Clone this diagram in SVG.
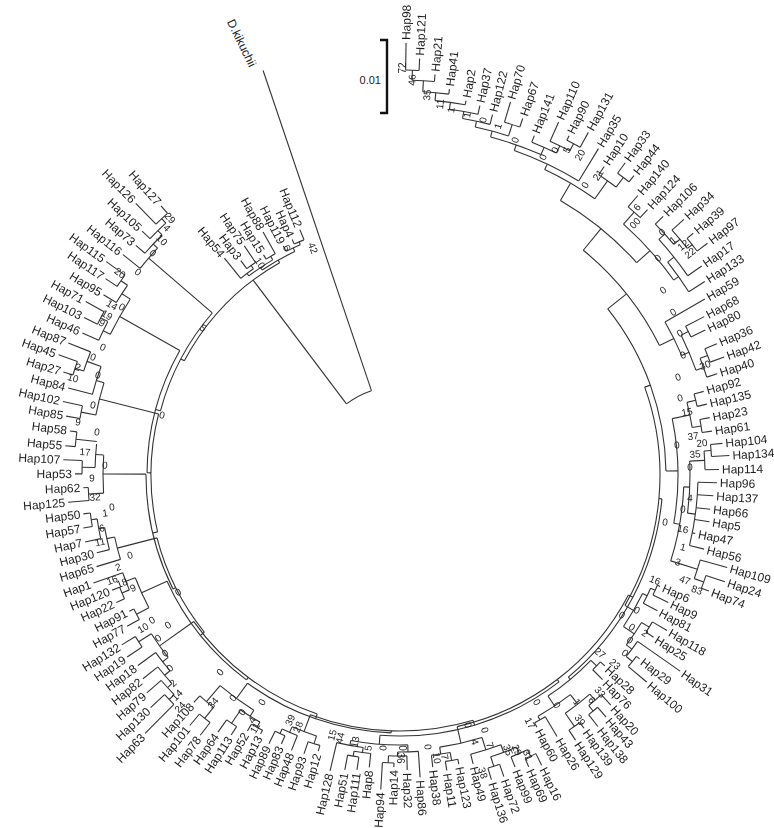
<svg xmlns="http://www.w3.org/2000/svg" width="774" height="828" viewBox="0 0 774 828">
<style>
.t{font-family:"Liberation Sans",Arial,sans-serif;font-size:12px;fill:#1c1c1c}
.e{text-anchor:end}
.b{font-family:"Liberation Sans",Arial,sans-serif;font-size:10px;fill:#222;text-anchor:middle}
#bootstrap,#labels{opacity:.99}
#connectors line,#connectors circle{fill:none;stroke:#333;stroke-width:1.1}
</style>
<rect width="774" height="828" fill="#fff"/>
<g id="connectors" transform="translate(400,475)">
<circle r="89" pathLength="360" stroke-dasharray="18.3 400" transform="rotate(233)"/>
<line x1="89" x2="244" transform="rotate(233)"/>
<line x1="89" x2="427" transform="rotate(251.3)"/>
<circle r="244" pathLength="360" stroke-dasharray="32.55 400" transform="rotate(207.9)"/>
<line x1="244" x2="247" transform="rotate(240.45)"/>
<line x1="244" x2="248" transform="rotate(207.9)"/>
<circle r="254" pathLength="360" stroke-dasharray="2.4 400" transform="rotate(245.4)"/>
<circle r="251" pathLength="360" stroke-dasharray="3.6 400" transform="rotate(243)"/>
<circle r="254" pathLength="360" stroke-dasharray="2.4 400" transform="rotate(238.2)"/>
<circle r="257" pathLength="360" stroke-dasharray="2.4 400" transform="rotate(233.4)"/>
<circle r="253" pathLength="360" stroke-dasharray="3.6 400" transform="rotate(231)"/>
<circle r="250" pathLength="360" stroke-dasharray="6.6 400" transform="rotate(232.8)"/>
<circle r="247" pathLength="360" stroke-dasharray="8.7 400" transform="rotate(236.1)"/>
<line x1="253" x2="279" transform="rotate(231)"/>
<line x1="257" x2="267" transform="rotate(233.4)"/>
<line x1="257" x2="277" transform="rotate(235.8)"/>
<line x1="254" x2="259" transform="rotate(238.2)"/>
<line x1="254" x2="279" transform="rotate(240.6)"/>
<line x1="251" x2="257" transform="rotate(243)"/>
<line x1="254" x2="259" transform="rotate(245.4)"/>
<line x1="254" x2="265" transform="rotate(247.8)"/>
<line x1="251" x2="254" transform="rotate(246.6)"/>
<line x1="247" x2="251" transform="rotate(244.8)"/>
<line x1="250" x2="254" transform="rotate(239.4)"/>
<line x1="253" x2="257" transform="rotate(234.6)"/>
<line x1="250" x2="253" transform="rotate(232.8)"/>
<line x1="247" x2="250" transform="rotate(236.1)"/>
<circle r="248" pathLength="360" stroke-dasharray="25.8 400" transform="rotate(195)"/>
<circle r="253" pathLength="360" stroke-dasharray="29 400" transform="rotate(180.5)"/>
<circle r="249" pathLength="360" stroke-dasharray="27.4 400" transform="rotate(166.8)"/>
<circle r="254" pathLength="360" stroke-dasharray="26.85 400" transform="rotate(153.35)"/>
<circle r="251" pathLength="360" stroke-dasharray="24.3 400" transform="rotate(141.2)"/>
<circle r="256" pathLength="360" stroke-dasharray="28.65 400" transform="rotate(126.85)"/>
<circle r="253" pathLength="360" stroke-dasharray="35.5 400" transform="rotate(109.1)"/>
<circle r="258" pathLength="360" stroke-dasharray="34.25 400" transform="rotate(91.95)"/>
<circle r="256" pathLength="360" stroke-dasharray="37.1 400" transform="rotate(73.4)"/>
<circle r="261" pathLength="360" stroke-dasharray="41.95 400" transform="rotate(52.45)"/>
<circle r="258" pathLength="360" stroke-dasharray="49.5 400" transform="rotate(27.7)"/>
<circle r="263" pathLength="360" stroke-dasharray="45 400" transform="rotate(5.2)"/>
<circle r="260" pathLength="360" stroke-dasharray="49.85 400" transform="rotate(-19.75)"/>
<circle r="266" pathLength="360" stroke-dasharray="37.8 400" transform="rotate(-38.65)"/>
<circle r="290" pathLength="360" stroke-dasharray="24.3 400" transform="rotate(-50.8)"/>
<circle r="318" pathLength="360" stroke-dasharray="17.8 400" transform="rotate(-59.7)"/>
<line x1="248" x2="253" transform="rotate(195)"/>
<line x1="249" x2="253" transform="rotate(180.5)"/>
<line x1="249" x2="254" transform="rotate(166.8)"/>
<line x1="251" x2="254" transform="rotate(153.35)"/>
<line x1="251" x2="256" transform="rotate(141.2)"/>
<line x1="253" x2="256" transform="rotate(126.85)"/>
<line x1="253" x2="258" transform="rotate(109.1)"/>
<line x1="256" x2="258" transform="rotate(91.95)"/>
<line x1="256" x2="261" transform="rotate(73.4)"/>
<line x1="258" x2="261" transform="rotate(52.45)"/>
<line x1="258" x2="263" transform="rotate(27.7)"/>
<line x1="260" x2="263" transform="rotate(5.2)"/>
<line x1="260" x2="266" transform="rotate(-19.75)"/>
<line x1="266" x2="290" transform="rotate(-38.65)"/>
<line x1="290" x2="318" transform="rotate(-50.8)"/>
<line x1="248" x2="332" transform="rotate(220.8)"/>
<line x1="253" x2="322" transform="rotate(209.5)"/>
<line x1="249" x2="310" transform="rotate(194.2)"/>
<line x1="254" x2="297" transform="rotate(180.2)"/>
<line x1="251" x2="292" transform="rotate(165.5)"/>
<line x1="256" x2="284" transform="rotate(155.5)"/>
<line x1="253" x2="295" transform="rotate(144.6)"/>
<line x1="258" x2="277" transform="rotate(126.2)"/>
<line x1="256" x2="274" transform="rotate(110.5)"/>
<line x1="261" x2="270" transform="rotate(94.4)"/>
<line x1="258" x2="275" transform="rotate(77.2)"/>
<line x1="263" x2="266" transform="rotate(50.2)"/>
<line x1="260" x2="270" transform="rotate(30.1)"/>
<line x1="266" x2="278" transform="rotate(-0.85)"/>
<line x1="290" x2="306" transform="rotate(-26.5)"/>
<line x1="318" x2="336" transform="rotate(-41.9)"/>
<line x1="318" x2="338" transform="rotate(-59.7)"/>
<circle r="350" pathLength="360" stroke-dasharray="2.6 400" transform="rotate(225.8)"/>
<circle r="344" pathLength="360" stroke-dasharray="3.7 400" transform="rotate(223.4)"/>
<circle r="338" pathLength="360" stroke-dasharray="4.25 400" transform="rotate(221)"/>
<circle r="332" pathLength="360" stroke-dasharray="4.6 400" transform="rotate(218.5)"/>
<line x1="350" x2="360" transform="rotate(228.4)"/>
<line x1="350" x2="379" transform="rotate(225.8)"/>
<line x1="344" x2="355" transform="rotate(223.4)"/>
<line x1="338" x2="350" transform="rotate(221)"/>
<line x1="332" x2="354" transform="rotate(218.5)"/>
<line x1="344" x2="350" transform="rotate(227.1)"/>
<line x1="338" x2="344" transform="rotate(225.25)"/>
<line x1="332" x2="338" transform="rotate(223.1)"/>
<circle r="340" pathLength="360" stroke-dasharray="2.3 400" transform="rotate(213.7)"/>
<circle r="332" pathLength="360" stroke-dasharray="3.55 400" transform="rotate(211.3)"/>
<circle r="338" pathLength="360" stroke-dasharray="2.4 400" transform="rotate(206.5)"/>
<circle r="330" pathLength="360" stroke-dasharray="3.6 400" transform="rotate(204.1)"/>
<circle r="322" pathLength="360" stroke-dasharray="7.2 400" transform="rotate(205.9)"/>
<line x1="340" x2="363" transform="rotate(216)"/>
<line x1="340" x2="354" transform="rotate(213.7)"/>
<line x1="332" x2="347" transform="rotate(211.3)"/>
<line x1="338" x2="359" transform="rotate(208.9)"/>
<line x1="338" x2="353" transform="rotate(206.5)"/>
<line x1="330" x2="348" transform="rotate(204.1)"/>
<line x1="332" x2="340" transform="rotate(214.85)"/>
<line x1="322" x2="332" transform="rotate(213.1)"/>
<line x1="330" x2="338" transform="rotate(207.7)"/>
<line x1="322" x2="330" transform="rotate(205.9)"/>
<circle r="342" pathLength="360" stroke-dasharray="2.4 400" transform="rotate(197)"/>
<circle r="333" pathLength="360" stroke-dasharray="3.5 400" transform="rotate(198.2)"/>
<circle r="318" pathLength="360" stroke-dasharray="5.25 400" transform="rotate(194.7)"/>
<circle r="325" pathLength="360" stroke-dasharray="2.3 400" transform="rotate(190)"/>
<circle r="310" pathLength="360" stroke-dasharray="6.15 400" transform="rotate(191.15)"/>
<line x1="333" x2="357" transform="rotate(201.7)"/>
<line x1="342" x2="362" transform="rotate(199.4)"/>
<line x1="342" x2="352" transform="rotate(197)"/>
<line x1="318" x2="343" transform="rotate(194.7)"/>
<line x1="325" x2="345" transform="rotate(192.3)"/>
<line x1="325" x2="339" transform="rotate(190)"/>
<line x1="333" x2="342" transform="rotate(198.2)"/>
<line x1="318" x2="333" transform="rotate(199.95)"/>
<line x1="310" x2="318" transform="rotate(197.3)"/>
<line x1="310" x2="325" transform="rotate(191.15)"/>
<circle r="326" pathLength="360" stroke-dasharray="2.6 400" transform="rotate(185)"/>
<circle r="318" pathLength="360" stroke-dasharray="2.4 400" transform="rotate(180.2)"/>
<circle r="305" pathLength="360" stroke-dasharray="4.45 400" transform="rotate(181.4)"/>
<circle r="312" pathLength="360" stroke-dasharray="2.4 400" transform="rotate(175.3)"/>
<circle r="297" pathLength="360" stroke-dasharray="7.35 400" transform="rotate(176.5)"/>
<line x1="326" x2="333" transform="rotate(187.6)"/>
<line x1="326" x2="336" transform="rotate(185)"/>
<line x1="318" x2="337" transform="rotate(182.6)"/>
<line x1="318" x2="325" transform="rotate(180.2)"/>
<line x1="312" x2="317" transform="rotate(177.7)"/>
<line x1="312" x2="333" transform="rotate(175.3)"/>
<line x1="305" x2="326" transform="rotate(186.3)"/>
<line x1="305" x2="318" transform="rotate(181.4)"/>
<line x1="297" x2="305" transform="rotate(183.85)"/>
<line x1="297" x2="312" transform="rotate(176.5)"/>
<circle r="312" pathLength="360" stroke-dasharray="2.5 400" transform="rotate(170.5)"/>
<circle r="306" pathLength="360" stroke-dasharray="3.75 400" transform="rotate(168)"/>
<circle r="300" pathLength="360" stroke-dasharray="4.3 400" transform="rotate(165.6)"/>
<circle r="292" pathLength="360" stroke-dasharray="4.55 400" transform="rotate(163.2)"/>
<line x1="312" x2="319" transform="rotate(173)"/>
<line x1="312" x2="321" transform="rotate(170.5)"/>
<line x1="306" x2="322" transform="rotate(168)"/>
<line x1="300" x2="313" transform="rotate(165.6)"/>
<line x1="292" x2="317" transform="rotate(163.2)"/>
<line x1="306" x2="312" transform="rotate(171.75)"/>
<line x1="300" x2="306" transform="rotate(169.9)"/>
<line x1="292" x2="300" transform="rotate(167.75)"/>
<circle r="302" pathLength="360" stroke-dasharray="2.4 400" transform="rotate(155.8)"/>
<circle r="294" pathLength="360" stroke-dasharray="3.6 400" transform="rotate(157)"/>
<circle r="298" pathLength="360" stroke-dasharray="2.3 400" transform="rotate(151)"/>
<circle r="284" pathLength="360" stroke-dasharray="6.65 400" transform="rotate(152.15)"/>
<line x1="294" x2="325" transform="rotate(160.6)"/>
<line x1="302" x2="310" transform="rotate(158.2)"/>
<line x1="302" x2="311" transform="rotate(155.8)"/>
<line x1="298" x2="303" transform="rotate(153.3)"/>
<line x1="298" x2="312" transform="rotate(151)"/>
<line x1="294" x2="302" transform="rotate(157)"/>
<line x1="284" x2="294" transform="rotate(158.8)"/>
<line x1="284" x2="298" transform="rotate(152.15)"/>
<circle r="322" pathLength="360" stroke-dasharray="2.4 400" transform="rotate(134.6)"/>
<circle r="315" pathLength="360" stroke-dasharray="3.5 400" transform="rotate(135.8)"/>
<circle r="309" pathLength="360" stroke-dasharray="4.05 400" transform="rotate(137.55)"/>
<circle r="302" pathLength="360" stroke-dasharray="4.4 400" transform="rotate(139.6)"/>
<circle r="310" pathLength="360" stroke-dasharray="2.3 400" transform="rotate(146.3)"/>
<circle r="295" pathLength="360" stroke-dasharray="5.65 400" transform="rotate(141.8)"/>
<line x1="310" x2="326" transform="rotate(148.6)"/>
<line x1="310" x2="328" transform="rotate(146.3)"/>
<line x1="302" x2="324" transform="rotate(144)"/>
<line x1="309" x2="328" transform="rotate(141.6)"/>
<line x1="315" x2="334" transform="rotate(139.3)"/>
<line x1="322" x2="341" transform="rotate(137)"/>
<line x1="322" x2="363" transform="rotate(134.6)"/>
<line x1="315" x2="322" transform="rotate(135.8)"/>
<line x1="309" x2="315" transform="rotate(137.55)"/>
<line x1="302" x2="309" transform="rotate(139.6)"/>
<line x1="295" x2="302" transform="rotate(141.8)"/>
<line x1="295" x2="310" transform="rotate(147.45)"/>
<circle r="312" pathLength="360" stroke-dasharray="2.5 400" transform="rotate(127.5)"/>
<circle r="298" pathLength="360" stroke-dasharray="3.45 400" transform="rotate(128.75)"/>
<circle r="300" pathLength="360" stroke-dasharray="2.3 400" transform="rotate(123)"/>
<circle r="290" pathLength="360" stroke-dasharray="2.5 400" transform="rotate(118.3)"/>
<circle r="284" pathLength="360" stroke-dasharray="4.6 400" transform="rotate(119.55)"/>
<circle r="277" pathLength="360" stroke-dasharray="8.65 400" transform="rotate(121.85)"/>
<line x1="298" x2="307" transform="rotate(132.2)"/>
<line x1="312" x2="327" transform="rotate(130)"/>
<line x1="312" x2="328" transform="rotate(127.5)"/>
<line x1="300" x2="315" transform="rotate(125.3)"/>
<line x1="300" x2="310" transform="rotate(123)"/>
<line x1="290" x2="298" transform="rotate(120.8)"/>
<line x1="290" x2="294" transform="rotate(118.3)"/>
<line x1="298" x2="312" transform="rotate(128.75)"/>
<line x1="277" x2="298" transform="rotate(130.5)"/>
<line x1="284" x2="300" transform="rotate(124.15)"/>
<line x1="284" x2="290" transform="rotate(119.55)"/>
<line x1="277" x2="284" transform="rotate(121.85)"/>
<circle r="285" pathLength="360" stroke-dasharray="2.2 400" transform="rotate(113.8)"/>
<circle r="280" pathLength="360" stroke-dasharray="3.4 400" transform="rotate(111.5)"/>
<circle r="282" pathLength="360" stroke-dasharray="2.5 400" transform="rotate(106.5)"/>
<circle r="274" pathLength="360" stroke-dasharray="5.45 400" transform="rotate(107.75)"/>
<line x1="285" x2="299" transform="rotate(116)"/>
<line x1="285" x2="294" transform="rotate(113.8)"/>
<line x1="280" x2="296" transform="rotate(111.5)"/>
<line x1="282" x2="295" transform="rotate(109)"/>
<line x1="282" x2="288" transform="rotate(106.5)"/>
<line x1="280" x2="285" transform="rotate(114.9)"/>
<line x1="274" x2="280" transform="rotate(113.2)"/>
<line x1="274" x2="282" transform="rotate(107.75)"/>
<circle r="285" pathLength="360" stroke-dasharray="2.3 400" transform="rotate(98.3)"/>
<circle r="280" pathLength="360" stroke-dasharray="3.45 400" transform="rotate(96)"/>
<circle r="275" pathLength="360" stroke-dasharray="5.6 400" transform="rotate(97.7)"/>
<circle r="288" pathLength="360" stroke-dasharray="2.3 400" transform="rotate(91.2)"/>
<circle r="281" pathLength="360" stroke-dasharray="3.75 400" transform="rotate(88.6)"/>
<circle r="277" pathLength="360" stroke-dasharray="4.3 400" transform="rotate(86.2)"/>
<circle r="270" pathLength="360" stroke-dasharray="12.15 400" transform="rotate(88.35)"/>
<line x1="275" x2="304" transform="rotate(103.3)"/>
<line x1="285" x2="300" transform="rotate(100.6)"/>
<line x1="285" x2="298" transform="rotate(98.3)"/>
<line x1="280" x2="294" transform="rotate(96)"/>
<line x1="288" x2="315" transform="rotate(93.5)"/>
<line x1="288" x2="292" transform="rotate(91.2)"/>
<line x1="281" x2="295" transform="rotate(88.6)"/>
<line x1="277" x2="303" transform="rotate(86.2)"/>
<line x1="280" x2="285" transform="rotate(99.45)"/>
<line x1="275" x2="280" transform="rotate(97.7)"/>
<line x1="270" x2="275" transform="rotate(100.5)"/>
<line x1="281" x2="288" transform="rotate(92.35)"/>
<line x1="277" x2="281" transform="rotate(90.5)"/>
<line x1="270" x2="277" transform="rotate(88.35)"/>
<circle r="290" pathLength="360" stroke-dasharray="2.5 400" transform="rotate(78.5)"/>
<circle r="282" pathLength="360" stroke-dasharray="3.85 400" transform="rotate(79.75)"/>
<circle r="310" pathLength="360" stroke-dasharray="2.2 400" transform="rotate(64)"/>
<circle r="303" pathLength="360" stroke-dasharray="3.4 400" transform="rotate(65.1)"/>
<circle r="306" pathLength="360" stroke-dasharray="2.3 400" transform="rotate(71)"/>
<circle r="296" pathLength="360" stroke-dasharray="5.35 400" transform="rotate(66.8)"/>
<circle r="288" pathLength="360" stroke-dasharray="6.3 400" transform="rotate(69.5)"/>
<circle r="275" pathLength="360" stroke-dasharray="9.05 400" transform="rotate(72.65)"/>
<line x1="282" x2="294" transform="rotate(83.6)"/>
<line x1="290" x2="299" transform="rotate(81)"/>
<line x1="290" x2="295" transform="rotate(78.5)"/>
<line x1="288" x2="298" transform="rotate(75.8)"/>
<line x1="306" x2="318" transform="rotate(73.3)"/>
<line x1="306" x2="319" transform="rotate(71)"/>
<line x1="303" x2="314" transform="rotate(68.5)"/>
<line x1="310" x2="319" transform="rotate(66.2)"/>
<line x1="310" x2="323" transform="rotate(64)"/>
<line x1="282" x2="290" transform="rotate(79.75)"/>
<line x1="275" x2="282" transform="rotate(81.7)"/>
<line x1="303" x2="310" transform="rotate(65.1)"/>
<line x1="296" x2="303" transform="rotate(66.8)"/>
<line x1="296" x2="306" transform="rotate(72.15)"/>
<line x1="288" x2="296" transform="rotate(69.5)"/>
<line x1="275" x2="288" transform="rotate(72.65)"/>
<circle r="282" pathLength="360" stroke-dasharray="2.5 400" transform="rotate(59)"/>
<circle r="305" pathLength="360" stroke-dasharray="2.2 400" transform="rotate(49.6)"/>
<circle r="298" pathLength="360" stroke-dasharray="3.2 400" transform="rotate(47.5)"/>
<circle r="306" pathLength="360" stroke-dasharray="2.5 400" transform="rotate(54)"/>
<circle r="290" pathLength="360" stroke-dasharray="6.15 400" transform="rotate(49.1)"/>
<circle r="278" pathLength="360" stroke-dasharray="8.05 400" transform="rotate(52.2)"/>
<circle r="274" pathLength="360" stroke-dasharray="2.3 400" transform="rotate(43)"/>
<circle r="266" pathLength="360" stroke-dasharray="12.05 400" transform="rotate(44.15)"/>
<line x1="282" x2="287" transform="rotate(61.5)"/>
<line x1="282" x2="305" transform="rotate(59)"/>
<line x1="306" x2="318" transform="rotate(56.5)"/>
<line x1="306" x2="313" transform="rotate(54)"/>
<line x1="305" x2="320" transform="rotate(51.8)"/>
<line x1="305" x2="318" transform="rotate(49.6)"/>
<line x1="298" x2="312" transform="rotate(47.5)"/>
<line x1="274" x2="288" transform="rotate(45.3)"/>
<line x1="274" x2="280" transform="rotate(43)"/>
<line x1="278" x2="282" transform="rotate(60.25)"/>
<line x1="298" x2="305" transform="rotate(50.7)"/>
<line x1="290" x2="298" transform="rotate(49.1)"/>
<line x1="290" x2="306" transform="rotate(55.25)"/>
<line x1="278" x2="290" transform="rotate(52.2)"/>
<line x1="266" x2="278" transform="rotate(56.2)"/>
<line x1="266" x2="274" transform="rotate(44.15)"/>
<circle r="280" pathLength="360" stroke-dasharray="2.2 400" transform="rotate(23.2)"/>
<circle r="275" pathLength="360" stroke-dasharray="3.5 400" transform="rotate(24.3)"/>
<circle r="292" pathLength="360" stroke-dasharray="2.4 400" transform="rotate(30.2)"/>
<circle r="298" pathLength="360" stroke-dasharray="2.5 400" transform="rotate(37.5)"/>
<circle r="290" pathLength="360" stroke-dasharray="3.75 400" transform="rotate(35)"/>
<circle r="283" pathLength="360" stroke-dasharray="5.5 400" transform="rotate(31.4)"/>
<circle r="270" pathLength="360" stroke-dasharray="8.05 400" transform="rotate(26.05)"/>
<line x1="298" x2="322" transform="rotate(40)"/>
<line x1="298" x2="302" transform="rotate(37.5)"/>
<line x1="290" x2="342" transform="rotate(35)"/>
<line x1="292" x2="301" transform="rotate(32.6)"/>
<line x1="292" x2="309" transform="rotate(30.2)"/>
<line x1="275" x2="291" transform="rotate(27.8)"/>
<line x1="280" x2="297" transform="rotate(25.4)"/>
<line x1="280" x2="283" transform="rotate(23.2)"/>
<line x1="275" x2="280" transform="rotate(24.3)"/>
<line x1="270" x2="275" transform="rotate(26.05)"/>
<line x1="283" x2="292" transform="rotate(31.4)"/>
<line x1="290" x2="298" transform="rotate(38.75)"/>
<line x1="283" x2="290" transform="rotate(36.9)"/>
<line x1="270" x2="283" transform="rotate(34.15)"/>
<circle r="305" pathLength="360" stroke-dasharray="2.4 400" transform="rotate(344.6)"/>
<circle r="305" pathLength="360" stroke-dasharray="2.5 400" transform="rotate(349.5)"/>
<circle r="296" pathLength="360" stroke-dasharray="4.95 400" transform="rotate(345.8)"/>
<circle r="312" pathLength="360" stroke-dasharray="2.2 400" transform="rotate(354.4)"/>
<circle r="305" pathLength="360" stroke-dasharray="3.5 400" transform="rotate(355.5)"/>
<circle r="298" pathLength="360" stroke-dasharray="12.3 400" transform="rotate(361.4)"/>
<circle r="290" pathLength="360" stroke-dasharray="10.3 400" transform="rotate(357.25)"/>
<circle r="322" pathLength="360" stroke-dasharray="2.4 400" transform="rotate(378.2)"/>
<circle r="312" pathLength="360" stroke-dasharray="3.6 400" transform="rotate(375.8)"/>
<circle r="284" pathLength="360" stroke-dasharray="15.2 400" transform="rotate(362.4)"/>
<circle r="278" pathLength="360" stroke-dasharray="21.7 400" transform="rotate(348.3)"/>
<line x1="305" x2="315" transform="rotate(344.6)"/>
<line x1="305" x2="315" transform="rotate(347)"/>
<line x1="305" x2="315" transform="rotate(349.5)"/>
<line x1="305" x2="315" transform="rotate(352)"/>
<line x1="312" x2="324" transform="rotate(354.4)"/>
<line x1="312" x2="330" transform="rotate(356.6)"/>
<line x1="305" x2="319" transform="rotate(359)"/>
<line x1="298" x2="317" transform="rotate(1.4)"/>
<line x1="298" x2="314" transform="rotate(3.8)"/>
<line x1="298" x2="312" transform="rotate(6.3)"/>
<line x1="298" x2="313" transform="rotate(8.6)"/>
<line x1="298" x2="301" transform="rotate(11.2)"/>
<line x1="298" x2="313" transform="rotate(13.7)"/>
<line x1="312" x2="340" transform="rotate(15.8)"/>
<line x1="322" x2="342" transform="rotate(18.2)"/>
<line x1="322" x2="330" transform="rotate(20.6)"/>
<line x1="296" x2="305" transform="rotate(345.8)"/>
<line x1="296" x2="305" transform="rotate(350.75)"/>
<line x1="278" x2="296" transform="rotate(348.3)"/>
<line x1="305" x2="312" transform="rotate(355.5)"/>
<line x1="290" x2="305" transform="rotate(357.25)"/>
<line x1="290" x2="298" transform="rotate(367.55)"/>
<line x1="284" x2="290" transform="rotate(362.4)"/>
<line x1="312" x2="322" transform="rotate(379.4)"/>
<line x1="284" x2="312" transform="rotate(377.6)"/>
<line x1="278" x2="284" transform="rotate(370)"/>
<circle r="322" pathLength="360" stroke-dasharray="2.1 400" transform="rotate(332.5)"/>
<circle r="330" pathLength="360" stroke-dasharray="2.5 400" transform="rotate(337.5)"/>
<circle r="322" pathLength="360" stroke-dasharray="3.55 400" transform="rotate(338.75)"/>
<circle r="314" pathLength="360" stroke-dasharray="6.95 400" transform="rotate(333.55)"/>
<circle r="306" pathLength="360" stroke-dasharray="7 400" transform="rotate(330)"/>
<line x1="306" x2="352" transform="rotate(330)"/>
<line x1="322" x2="343" transform="rotate(332.5)"/>
<line x1="322" x2="338" transform="rotate(334.6)"/>
<line x1="330" x2="343" transform="rotate(337.5)"/>
<line x1="330" x2="345" transform="rotate(340)"/>
<line x1="322" x2="333" transform="rotate(342.3)"/>
<line x1="314" x2="322" transform="rotate(333.55)"/>
<line x1="322" x2="330" transform="rotate(338.75)"/>
<line x1="314" x2="322" transform="rotate(340.5)"/>
<line x1="306" x2="314" transform="rotate(337)"/>
<circle r="352" pathLength="360" stroke-dasharray="2.6 400" transform="rotate(310.4)"/>
<circle r="372" pathLength="360" stroke-dasharray="2.5 400" transform="rotate(320.5)"/>
<circle r="366" pathLength="360" stroke-dasharray="3.75 400" transform="rotate(318)"/>
<circle r="358" pathLength="360" stroke-dasharray="4.4 400" transform="rotate(315.5)"/>
<circle r="350" pathLength="360" stroke-dasharray="7.6 400" transform="rotate(317.7)"/>
<circle r="342" pathLength="360" stroke-dasharray="6.1 400" transform="rotate(321.5)"/>
<circle r="336" pathLength="360" stroke-dasharray="12.85 400" transform="rotate(311.7)"/>
<line x1="352" x2="367" transform="rotate(310.4)"/>
<line x1="352" x2="363" transform="rotate(313)"/>
<line x1="358" x2="369" transform="rotate(315.5)"/>
<line x1="366" x2="382" transform="rotate(318)"/>
<line x1="372" x2="380" transform="rotate(320.5)"/>
<line x1="372" x2="385" transform="rotate(323)"/>
<line x1="350" x2="367" transform="rotate(325.3)"/>
<line x1="342" x2="361" transform="rotate(327.6)"/>
<line x1="336" x2="352" transform="rotate(311.7)"/>
<line x1="366" x2="372" transform="rotate(321.75)"/>
<line x1="358" x2="366" transform="rotate(319.9)"/>
<line x1="350" x2="358" transform="rotate(317.7)"/>
<line x1="342" x2="350" transform="rotate(321.5)"/>
<line x1="336" x2="342" transform="rotate(324.55)"/>
<circle r="405" pathLength="360" stroke-dasharray="1.9 400" transform="rotate(270.8)"/>
<circle r="395" pathLength="360" stroke-dasharray="3.25 400" transform="rotate(271.75)"/>
<circle r="384" pathLength="360" stroke-dasharray="3.9 400" transform="rotate(273.4)"/>
<circle r="376" pathLength="360" stroke-dasharray="4.65 400" transform="rotate(275.35)"/>
<circle r="369" pathLength="360" stroke-dasharray="4.5 400" transform="rotate(277.7)"/>
<circle r="362" pathLength="360" stroke-dasharray="4.45 400" transform="rotate(279.95)"/>
<circle r="368" pathLength="360" stroke-dasharray="2.5 400" transform="rotate(286.5)"/>
<circle r="356" pathLength="360" stroke-dasharray="5.55 400" transform="rotate(282.2)"/>
<circle r="374" pathLength="360" stroke-dasharray="2.3 400" transform="rotate(296.5)"/>
<circle r="366" pathLength="360" stroke-dasharray="3.45 400" transform="rotate(294.2)"/>
<circle r="358" pathLength="360" stroke-dasharray="4.3 400" transform="rotate(291.6)"/>
<circle r="350" pathLength="360" stroke-dasharray="8.75 400" transform="rotate(285)"/>
<circle r="344" pathLength="360" stroke-dasharray="11.9 400" transform="rotate(289.4)"/>
<circle r="372" pathLength="360" stroke-dasharray="2.2 400" transform="rotate(305.8)"/>
<circle r="360" pathLength="360" stroke-dasharray="3.4 400" transform="rotate(303.5)"/>
<circle r="338" pathLength="360" stroke-dasharray="9.85 400" transform="rotate(295.35)"/>
<line x1="405" x2="432" transform="rotate(270.8)"/>
<line x1="405" x2="417" transform="rotate(272.7)"/>
<line x1="395" x2="402" transform="rotate(275)"/>
<line x1="384" x2="389" transform="rotate(277.3)"/>
<line x1="376" x2="380" transform="rotate(280)"/>
<line x1="369" x2="378" transform="rotate(282.2)"/>
<line x1="362" x2="372" transform="rotate(284.4)"/>
<line x1="368" x2="389" transform="rotate(286.5)"/>
<line x1="368" x2="377" transform="rotate(289)"/>
<line x1="358" x2="365" transform="rotate(291.6)"/>
<line x1="366" x2="387" transform="rotate(294.2)"/>
<line x1="374" x2="379" transform="rotate(296.5)"/>
<line x1="374" x2="391" transform="rotate(298.8)"/>
<line x1="344" x2="382" transform="rotate(301.3)"/>
<line x1="360" x2="370" transform="rotate(303.5)"/>
<line x1="372" x2="385" transform="rotate(305.8)"/>
<line x1="372" x2="380" transform="rotate(308)"/>
<line x1="395" x2="405" transform="rotate(271.75)"/>
<line x1="384" x2="395" transform="rotate(273.4)"/>
<line x1="376" x2="384" transform="rotate(275.35)"/>
<line x1="369" x2="376" transform="rotate(277.7)"/>
<line x1="362" x2="369" transform="rotate(279.95)"/>
<line x1="356" x2="362" transform="rotate(282.2)"/>
<line x1="356" x2="368" transform="rotate(287.75)"/>
<line x1="350" x2="356" transform="rotate(285)"/>
<line x1="366" x2="374" transform="rotate(297.65)"/>
<line x1="358" x2="366" transform="rotate(295.9)"/>
<line x1="350" x2="358" transform="rotate(293.75)"/>
<line x1="344" x2="350" transform="rotate(289.4)"/>
<line x1="338" x2="344" transform="rotate(295.35)"/>
<line x1="360" x2="372" transform="rotate(306.9)"/>
<line x1="338" x2="360" transform="rotate(305.2)"/>
</g>
<g id="scalebar" fill="none" stroke="#111" stroke-width="2.4">
<path d="M380,40 H387 V113 H380"/>
</g>
<text class="t e" x="381" y="84" style="font-size:11px">0.01</text>
<g id="labels" transform="translate(400,475)">
<g id="Hap98"><text class="t" dy=".35em" transform="rotate(270.8) translate(435)">Hap98</text></g>
<g id="Hap121"><text class="t" dy=".35em" transform="rotate(272.7) translate(420)">Hap121</text></g>
<g id="Hap21"><text class="t" dy=".35em" transform="rotate(275) translate(405)">Hap21</text></g>
<g id="Hap41"><text class="t" dy=".35em" transform="rotate(277.3) translate(392)">Hap41</text></g>
<g id="Hap2"><text class="t" dy=".35em" transform="rotate(280) translate(383)">Hap2</text></g>
<g id="Hap37"><text class="t" dy=".35em" transform="rotate(282.2) translate(381)">Hap37</text></g>
<g id="Hap122"><text class="t" dy=".35em" transform="rotate(284.4) translate(375)">Hap122</text></g>
<g id="Hap70"><text class="t" dy=".35em" transform="rotate(286.5) translate(392)">Hap70</text></g>
<g id="Hap67"><text class="t" dy=".35em" transform="rotate(289) translate(380)">Hap67</text></g>
<g id="Hap141"><text class="t" dy=".35em" transform="rotate(291.6) translate(368)">Hap141</text></g>
<g id="Hap110"><text class="t" dy=".35em" transform="rotate(294.2) translate(390)">Hap110</text></g>
<g id="Hap90"><text class="t" dy=".35em" transform="rotate(296.5) translate(382)">Hap90</text></g>
<g id="Hap131"><text class="t" dy=".35em" transform="rotate(298.8) translate(394)">Hap131</text></g>
<g id="Hap35"><text class="t" dy=".35em" transform="rotate(301.3) translate(385)">Hap35</text></g>
<g id="Hap10"><text class="t" dy=".35em" transform="rotate(303.5) translate(373)">Hap10</text></g>
<g id="Hap33"><text class="t" dy=".35em" transform="rotate(305.8) translate(388)">Hap33</text></g>
<g id="Hap44"><text class="t" dy=".35em" transform="rotate(308) translate(383)">Hap44</text></g>
<g id="Hap140"><text class="t" dy=".35em" transform="rotate(310.4) translate(370)">Hap140</text></g>
<g id="Hap124"><text class="t" dy=".35em" transform="rotate(313) translate(366)">Hap124</text></g>
<g id="Hap106"><text class="t" dy=".35em" transform="rotate(315.5) translate(372)">Hap106</text></g>
<g id="Hap34"><text class="t" dy=".35em" transform="rotate(318) translate(385)">Hap34</text></g>
<g id="Hap39"><text class="t" dy=".35em" transform="rotate(320.5) translate(383)">Hap39</text></g>
<g id="Hap97"><text class="t" dy=".35em" transform="rotate(323) translate(388)">Hap97</text></g>
<g id="Hap17"><text class="t" dy=".35em" transform="rotate(325.3) translate(370)">Hap17</text></g>
<g id="Hap133"><text class="t" dy=".35em" transform="rotate(327.6) translate(364)">Hap133</text></g>
<g id="Hap59"><text class="t" dy=".35em" transform="rotate(330) translate(355)">Hap59</text></g>
<g id="Hap68"><text class="t" dy=".35em" transform="rotate(332.5) translate(346)">Hap68</text></g>
<g id="Hap80"><text class="t" dy=".35em" transform="rotate(334.6) translate(341)">Hap80</text></g>
<g id="Hap36"><text class="t" dy=".35em" transform="rotate(337.5) translate(346)">Hap36</text></g>
<g id="Hap42"><text class="t" dy=".35em" transform="rotate(340) translate(348)">Hap42</text></g>
<g id="Hap40"><text class="t" dy=".35em" transform="rotate(342.3) translate(336)">Hap40</text></g>
<g id="Hap92"><text class="t" dy=".35em" transform="rotate(344.6) translate(318)">Hap92</text></g>
<g id="Hap135"><text class="t" dy=".35em" transform="rotate(347) translate(318)">Hap135</text></g>
<g id="Hap23"><text class="t" dy=".35em" transform="rotate(349.5) translate(318)">Hap23</text></g>
<g id="Hap61"><text class="t" dy=".35em" transform="rotate(352) translate(318)">Hap61</text></g>
<g id="Hap104"><text class="t" dy=".35em" transform="rotate(354.4) translate(327)">Hap104</text></g>
<g id="Hap134"><text class="t" dy=".35em" transform="rotate(356.6) translate(333)">Hap134</text></g>
<g id="Hap114"><text class="t" dy=".35em" transform="rotate(359) translate(322)">Hap114</text></g>
<g id="Hap96"><text class="t" dy=".35em" transform="rotate(1.4) translate(320)">Hap96</text></g>
<g id="Hap137"><text class="t" dy=".35em" transform="rotate(3.8) translate(317)">Hap137</text></g>
<g id="Hap66"><text class="t" dy=".35em" transform="rotate(6.3) translate(315)">Hap66</text></g>
<g id="Hap5"><text class="t" dy=".35em" transform="rotate(8.6) translate(316)">Hap5</text></g>
<g id="Hap47"><text class="t" dy=".35em" transform="rotate(11.2) translate(304)">Hap47</text></g>
<g id="Hap56"><text class="t" dy=".35em" transform="rotate(13.7) translate(316)">Hap56</text></g>
<g id="Hap109"><text class="t" dy=".35em" transform="rotate(15.8) translate(343)">Hap109</text></g>
<g id="Hap24"><text class="t" dy=".35em" transform="rotate(18.2) translate(345)">Hap24</text></g>
<g id="Hap74"><text class="t" dy=".35em" transform="rotate(20.6) translate(333)">Hap74</text></g>
<g id="Hap6"><text class="t" dy=".35em" transform="rotate(23.2) translate(286)">Hap6</text></g>
<g id="Hap9"><text class="t" dy=".35em" transform="rotate(25.4) translate(300)">Hap9</text></g>
<g id="Hap81"><text class="t" dy=".35em" transform="rotate(27.8) translate(294)">Hap81</text></g>
<g id="Hap118"><text class="t" dy=".35em" transform="rotate(30.2) translate(312)">Hap118</text></g>
<g id="Hap25"><text class="t" dy=".35em" transform="rotate(32.6) translate(304)">Hap25</text></g>
<g id="Hap31"><text class="t" dy=".35em" transform="rotate(35) translate(345)">Hap31</text></g>
<g id="Hap29"><text class="t" dy=".35em" transform="rotate(37.5) translate(305)">Hap29</text></g>
<g id="Hap100"><text class="t" dy=".35em" transform="rotate(40) translate(325)">Hap100</text></g>
<g id="Hap28"><text class="t" dy=".35em" transform="rotate(43) translate(283)">Hap28</text></g>
<g id="Hap76"><text class="t" dy=".35em" transform="rotate(45.3) translate(291)">Hap76</text></g>
<g id="Hap20"><text class="t" dy=".35em" transform="rotate(47.5) translate(315)">Hap20</text></g>
<g id="Hap43"><text class="t" dy=".35em" transform="rotate(49.6) translate(321)">Hap43</text></g>
<g id="Hap138"><text class="t" dy=".35em" transform="rotate(51.8) translate(323)">Hap138</text></g>
<g id="Hap139"><text class="t" dy=".35em" transform="rotate(54) translate(316)">Hap139</text></g>
<g id="Hap129"><text class="t" dy=".35em" transform="rotate(56.5) translate(321)">Hap129</text></g>
<g id="Hap26"><text class="t" dy=".35em" transform="rotate(59) translate(308)">Hap26</text></g>
<g id="Hap60"><text class="t" dy=".35em" transform="rotate(61.5) translate(290)">Hap60</text></g>
<g id="Hap16"><text class="t" dy=".35em" transform="rotate(64) translate(326)">Hap16</text></g>
<g id="Hap69"><text class="t" dy=".35em" transform="rotate(66.2) translate(322)">Hap69</text></g>
<g id="Hap99"><text class="t" dy=".35em" transform="rotate(68.5) translate(317)">Hap99</text></g>
<g id="Hap72"><text class="t" dy=".35em" transform="rotate(71) translate(322)">Hap72</text></g>
<g id="Hap136"><text class="t" dy=".35em" transform="rotate(73.3) translate(321)">Hap136</text></g>
<g id="Hap49"><text class="t" dy=".35em" transform="rotate(75.8) translate(301)">Hap49</text></g>
<g id="Hap123"><text class="t" dy=".35em" transform="rotate(78.5) translate(298)">Hap123</text></g>
<g id="Hap11"><text class="t" dy=".35em" transform="rotate(81) translate(302)">Hap11</text></g>
<g id="Hap38"><text class="t" dy=".35em" transform="rotate(83.6) translate(297)">Hap38</text></g>
<g id="Hap86"><text class="t" dy=".35em" transform="rotate(86.2) translate(306)">Hap86</text></g>
<g id="Hap32"><text class="t" dy=".35em" transform="rotate(88.6) translate(298)">Hap32</text></g>
<g id="Hap14"><text class="t e" dy=".35em" transform="rotate(91.2) translate(295) rotate(180)">Hap14</text></g>
<g id="Hap94"><text class="t e" dy=".35em" transform="rotate(93.5) translate(318) rotate(180)">Hap94</text></g>
<g id="Hap8"><text class="t e" dy=".35em" transform="rotate(96) translate(297) rotate(180)">Hap8</text></g>
<g id="Hap111"><text class="t e" dy=".35em" transform="rotate(98.3) translate(301) rotate(180)">Hap111</text></g>
<g id="Hap51"><text class="t e" dy=".35em" transform="rotate(100.6) translate(303) rotate(180)">Hap51</text></g>
<g id="Hap128"><text class="t e" dy=".35em" transform="rotate(103.3) translate(307) rotate(180)">Hap128</text></g>
<g id="Hap12"><text class="t e" dy=".35em" transform="rotate(106.5) translate(291) rotate(180)">Hap12</text></g>
<g id="Hap93"><text class="t e" dy=".35em" transform="rotate(109) translate(298) rotate(180)">Hap93</text></g>
<g id="Hap48"><text class="t e" dy=".35em" transform="rotate(111.5) translate(299) rotate(180)">Hap48</text></g>
<g id="Hap83"><text class="t e" dy=".35em" transform="rotate(113.8) translate(297) rotate(180)">Hap83</text></g>
<g id="Hap89"><text class="t e" dy=".35em" transform="rotate(116) translate(302) rotate(180)">Hap89</text></g>
<g id="Hap13"><text class="t e" dy=".35em" transform="rotate(118.3) translate(297) rotate(180)">Hap13</text></g>
<g id="Hap52"><text class="t e" dy=".35em" transform="rotate(120.8) translate(301) rotate(180)">Hap52</text></g>
<g id="Hap113"><text class="t e" dy=".35em" transform="rotate(123) translate(313) rotate(180)">Hap113</text></g>
<g id="Hap64"><text class="t e" dy=".35em" transform="rotate(125.3) translate(318) rotate(180)">Hap64</text></g>
<g id="Hap78"><text class="t e" dy=".35em" transform="rotate(127.5) translate(331) rotate(180)">Hap78</text></g>
<g id="Hap101"><text class="t e" dy=".35em" transform="rotate(130) translate(330) rotate(180)">Hap101</text></g>
<g id="Hap108"><text class="t e" dy=".35em" transform="rotate(132.2) translate(310) rotate(180)">Hap108</text></g>
<g id="Hap63"><text class="t e" dy=".35em" transform="rotate(134.6) translate(366) rotate(180)">Hap63</text></g>
<g id="Hap130"><text class="t e" dy=".35em" transform="rotate(137) translate(344) rotate(180)">Hap130</text></g>
<g id="Hap79"><text class="t e" dy=".35em" transform="rotate(139.3) translate(337) rotate(180)">Hap79</text></g>
<g id="Hap82"><text class="t e" dy=".35em" transform="rotate(141.6) translate(331) rotate(180)">Hap82</text></g>
<g id="Hap18"><text class="t e" dy=".35em" transform="rotate(144) translate(327) rotate(180)">Hap18</text></g>
<g id="Hap19"><text class="t e" dy=".35em" transform="rotate(146.3) translate(331) rotate(180)">Hap19</text></g>
<g id="Hap132"><text class="t e" dy=".35em" transform="rotate(148.6) translate(329) rotate(180)">Hap132</text></g>
<g id="Hap77"><text class="t e" dy=".35em" transform="rotate(151) translate(315) rotate(180)">Hap77</text></g>
<g id="Hap91"><text class="t e" dy=".35em" transform="rotate(153.3) translate(306) rotate(180)">Hap91</text></g>
<g id="Hap22"><text class="t e" dy=".35em" transform="rotate(155.8) translate(314) rotate(180)">Hap22</text></g>
<g id="Hap120"><text class="t e" dy=".35em" transform="rotate(158.2) translate(313) rotate(180)">Hap120</text></g>
<g id="Hap1"><text class="t e" dy=".35em" transform="rotate(160.6) translate(328) rotate(180)">Hap1</text></g>
<g id="Hap65"><text class="t e" dy=".35em" transform="rotate(163.2) translate(320) rotate(180)">Hap65</text></g>
<g id="Hap30"><text class="t e" dy=".35em" transform="rotate(165.6) translate(316) rotate(180)">Hap30</text></g>
<g id="Hap7"><text class="t e" dy=".35em" transform="rotate(168) translate(325) rotate(180)">Hap7</text></g>
<g id="Hap57"><text class="t e" dy=".35em" transform="rotate(170.5) translate(324) rotate(180)">Hap57</text></g>
<g id="Hap50"><text class="t e" dy=".35em" transform="rotate(173) translate(322) rotate(180)">Hap50</text></g>
<g id="Hap125"><text class="t e" dy=".35em" transform="rotate(175.3) translate(336) rotate(180)">Hap125</text></g>
<g id="Hap62"><text class="t e" dy=".35em" transform="rotate(177.7) translate(320) rotate(180)">Hap62</text></g>
<g id="Hap53"><text class="t e" dy=".35em" transform="rotate(180.2) translate(328) rotate(180)">Hap53</text></g>
<g id="Hap107"><text class="t e" dy=".35em" transform="rotate(182.6) translate(340) rotate(180)">Hap107</text></g>
<g id="Hap55"><text class="t e" dy=".35em" transform="rotate(185) translate(339) rotate(180)">Hap55</text></g>
<g id="Hap58"><text class="t e" dy=".35em" transform="rotate(187.6) translate(336) rotate(180)">Hap58</text></g>
<g id="Hap85"><text class="t e" dy=".35em" transform="rotate(190) translate(342) rotate(180)">Hap85</text></g>
<g id="Hap102"><text class="t e" dy=".35em" transform="rotate(192.3) translate(348) rotate(180)">Hap102</text></g>
<g id="Hap84"><text class="t e" dy=".35em" transform="rotate(194.7) translate(346) rotate(180)">Hap84</text></g>
<g id="Hap27"><text class="t e" dy=".35em" transform="rotate(197) translate(355) rotate(180)">Hap27</text></g>
<g id="Hap45"><text class="t e" dy=".35em" transform="rotate(199.4) translate(365) rotate(180)">Hap45</text></g>
<g id="Hap87"><text class="t e" dy=".35em" transform="rotate(201.7) translate(360) rotate(180)">Hap87</text></g>
<g id="Hap46"><text class="t e" dy=".35em" transform="rotate(204.1) translate(351) rotate(180)">Hap46</text></g>
<g id="Hap103"><text class="t e" dy=".35em" transform="rotate(206.5) translate(356) rotate(180)">Hap103</text></g>
<g id="Hap71"><text class="t e" dy=".35em" transform="rotate(208.9) translate(362) rotate(180)">Hap71</text></g>
<g id="Hap95"><text class="t e" dy=".35em" transform="rotate(211.3) translate(350) rotate(180)">Hap95</text></g>
<g id="Hap117"><text class="t e" dy=".35em" transform="rotate(213.7) translate(357) rotate(180)">Hap117</text></g>
<g id="Hap115"><text class="t e" dy=".35em" transform="rotate(216) translate(366) rotate(180)">Hap115</text></g>
<g id="Hap116"><text class="t e" dy=".35em" transform="rotate(218.5) translate(357) rotate(180)">Hap116</text></g>
<g id="Hap73"><text class="t e" dy=".35em" transform="rotate(221) translate(353) rotate(180)">Hap73</text></g>
<g id="Hap105"><text class="t e" dy=".35em" transform="rotate(223.4) translate(358) rotate(180)">Hap105</text></g>
<g id="Hap126"><text class="t e" dy=".35em" transform="rotate(225.8) translate(382) rotate(180)">Hap126</text></g>
<g id="Hap127"><text class="t e" dy=".35em" transform="rotate(228.4) translate(363) rotate(180)">Hap127</text></g>
<g id="Hap54"><text class="t e" dy=".35em" transform="rotate(231) translate(282) rotate(180)">Hap54</text></g>
<g id="Hap3"><text class="t e" dy=".35em" transform="rotate(233.4) translate(270) rotate(180)">Hap3</text></g>
<g id="Hap75"><text class="t e" dy=".35em" transform="rotate(235.8) translate(280) rotate(180)">Hap75</text></g>
<g id="Hap15"><text class="t e" dy=".35em" transform="rotate(238.2) translate(262) rotate(180)">Hap15</text></g>
<g id="Hap88"><text class="t e" dy=".35em" transform="rotate(240.6) translate(282) rotate(180)">Hap88</text></g>
<g id="Hap119"><text class="t e" dy=".35em" transform="rotate(243) translate(260) rotate(180)">Hap119</text></g>
<g id="Hap4"><text class="t e" dy=".35em" transform="rotate(245.4) translate(262) rotate(180)">Hap4</text></g>
<g id="Hap112"><text class="t e" dy=".35em" transform="rotate(247.8) translate(268) rotate(180)">Hap112</text></g>
</g>
<g id="outgroup"><text class="t e" dy=".35em" transform="translate(253,66) rotate(64)">D.kikuchii</text></g>
<g id="bootstrap">
<text class="b" dy=".35em" transform="translate(402,68) rotate(-90)">72</text>
<text class="b" dy=".35em" transform="translate(412,80) rotate(-88)">46</text>
<text class="b" dy=".35em" transform="translate(427,95) rotate(-86)">35</text>
<text class="b" dy=".35em" transform="translate(440,104) rotate(-84)">11</text>
<text class="b" dy=".35em" transform="translate(451,110) rotate(-82)">1</text>
<text class="b" dy=".35em" transform="translate(467,115) rotate(-80)">1</text>
<text class="b" dy=".35em" transform="translate(483,120) rotate(-77)">0</text>
<text class="b" dy=".35em" transform="translate(498,126) rotate(-74)">1</text>
<text class="b" dy=".35em" transform="translate(515,140) rotate(-71)">0</text>
<text class="b" dy=".35em" transform="translate(543,157) rotate(-66)">0</text>
<text class="b" dy=".35em" transform="translate(555,150) rotate(-65)">0</text>
<text class="b" dy=".35em" transform="translate(567,150) rotate(-63)">5</text>
<text class="b" dy=".35em" transform="translate(580,155) rotate(-61)">20</text>
<text class="b" dy=".35em" transform="translate(585,185) rotate(-58)">0</text>
<text class="b" dy=".35em" transform="translate(598,175) rotate(-57)">21</text>
<text class="b" dy=".35em" transform="translate(637,207) rotate(-48)">6</text>
<text class="b" dy=".35em" transform="translate(635,223) rotate(-47)">00</text>
<text class="b" dy=".35em" transform="translate(662,232) rotate(-42)">0</text>
<text class="b" dy=".35em" transform="translate(673,240) rotate(-40)">1</text>
<text class="b" dy=".35em" transform="translate(683,245) rotate(-38)">12</text>
<text class="b" dy=".35em" transform="translate(690,253) rotate(-37)">22</text>
<text class="b" dy=".35em" transform="translate(658,258) rotate(-40)">0</text>
<text class="b" dy=".35em" transform="translate(663,290) rotate(-35)">0</text>
<text class="b" dy=".35em" transform="translate(673,312) rotate(-31)">0</text>
<text class="b" dy=".35em" transform="translate(680,333) rotate(-27)">0</text>
<text class="b" dy=".35em" transform="translate(683,355) rotate(-23)">0</text>
<text class="b" dy=".35em" transform="translate(705,365) rotate(-20)">30</text>
<text class="b" dy=".35em" transform="translate(678,377) rotate(-19)">0</text>
<text class="b" dy=".35em" transform="translate(680,398) rotate(-15)">0</text>
<text class="b" dy=".35em" transform="translate(687,412) rotate(-12)">15</text>
<text class="b" dy=".35em" transform="translate(693,436) rotate(-7)">37</text>
<text class="b" dy=".35em" transform="translate(702,443) rotate(-6)">20</text>
<text class="b" dy=".35em" transform="translate(695,454) rotate(-4)">35</text>
<text class="b" dy=".35em" transform="translate(677,445) rotate(-6)">0</text>
<text class="b" dy=".35em" transform="translate(690,467) rotate(-1)">0</text>
<text class="b" dy=".35em" transform="translate(690,498) rotate(4)">4</text>
<text class="b" dy=".35em" transform="translate(683,509) rotate(6)">0</text>
<text class="b" dy=".35em" transform="translate(665,522) rotate(10)">0</text>
<text class="b" dy=".35em" transform="translate(683,529) rotate(11)">16</text>
<text class="b" dy=".35em" transform="translate(683,547) rotate(14)">1</text>
<text class="b" dy=".35em" transform="translate(678,562) rotate(17)">3</text>
<text class="b" dy=".35em" transform="translate(685,580) rotate(20)">47</text>
<text class="b" dy=".35em" transform="translate(697,590) rotate(21)">83</text>
<text class="b" dy=".35em" transform="translate(655,580) rotate(22)">16</text>
<text class="b" dy=".35em" transform="translate(637,610) rotate(30)">0</text>
<text class="b" dy=".35em" transform="translate(622,615) rotate(32)">0</text>
<text class="b" dy=".35em" transform="translate(632,627) rotate(33)">0</text>
<text class="b" dy=".35em" transform="translate(645,633) rotate(33)">2</text>
<text class="b" dy=".35em" transform="translate(630,640) rotate(36)">0</text>
<text class="b" dy=".35em" transform="translate(625,653) rotate(38)">0</text>
<text class="b" dy=".35em" transform="translate(615,664) rotate(41)">23</text>
<text class="b" dy=".35em" transform="translate(600,653) rotate(42)">27</text>
<text class="b" dy=".35em" transform="translate(537,702) rotate(59)">0</text>
<text class="b" dy=".35em" transform="translate(600,692) rotate(47)">33</text>
<text class="b" dy=".35em" transform="translate(592,700) rotate(49)">6</text>
<text class="b" dy=".35em" transform="translate(577,702) rotate(52)">1</text>
<text class="b" dy=".35em" transform="translate(557,705) rotate(56)">0</text>
<text class="b" dy=".35em" transform="translate(580,720) rotate(54)">39</text>
<text class="b" dy=".35em" transform="translate(530,723) rotate(62)">17</text>
<text class="b" dy=".35em" transform="translate(485,730) rotate(72)">0</text>
<text class="b" dy=".35em" transform="translate(468,725) rotate(75)">0</text>
<text class="b" dy=".35em" transform="translate(475,742) rotate(74)">4</text>
<text class="b" dy=".35em" transform="translate(490,745) rotate(72)">7</text>
<text class="b" dy=".35em" transform="translate(508,750) rotate(69)">35</text>
<text class="b" dy=".35em" transform="translate(517,750) rotate(67)">29</text>
<text class="b" dy=".35em" transform="translate(528,755) rotate(65)">31</text>
<text class="b" dy=".35em" transform="translate(483,773) rotate(74)">38</text>
<text class="b" dy=".35em" transform="translate(445,757) rotate(81)">7</text>
<text class="b" dy=".35em" transform="translate(437,758) rotate(83)">10</text>
<text class="b" dy=".35em" transform="translate(428,747) rotate(84)">0</text>
<text class="b" dy=".35em" transform="translate(402,748) rotate(90)">0</text>
<text class="b" dy=".35em" transform="translate(400,758) rotate(90)">36</text>
<text class="b" dy=".35em" transform="translate(220,672) rotate(-48)">0</text>
<text class="b" dy=".35em" transform="translate(233,698) rotate(-53)">0</text>
<text class="b" dy=".35em" transform="translate(262,702) rotate(-59)">0</text>
<text class="b" dy=".35em" transform="translate(213,703) rotate(-51)">34</text>
<text class="b" dy=".35em" transform="translate(242,712) rotate(-56)">0</text>
<text class="b" dy=".35em" transform="translate(252,720) rotate(-59)">4</text>
<text class="b" dy=".35em" transform="translate(255,728) rotate(-60)">11</text>
<text class="b" dy=".35em" transform="translate(290,720) rotate(-66)">39</text>
<text class="b" dy=".35em" transform="translate(298,727) rotate(-67)">28</text>
<text class="b" dy=".35em" transform="translate(332,735) rotate(-75)">15</text>
<text class="b" dy=".35em" transform="translate(340,738) rotate(-77)">44</text>
<text class="b" dy=".35em" transform="translate(355,742) rotate(-80)">13</text>
<text class="b" dy=".35em" transform="translate(368,748) rotate(-83)">5</text>
<text class="b" dy=".35em" transform="translate(383,748) rotate(-86)">0</text>
<text class="b" dy=".35em" transform="translate(118,567) rotate(-18)">2</text>
<text class="b" dy=".35em" transform="translate(112,580) rotate(-20)">16</text>
<text class="b" dy=".35em" transform="translate(122,583) rotate(-21)">18</text>
<text class="b" dy=".35em" transform="translate(133,588) rotate(-23)">9</text>
<text class="b" dy=".35em" transform="translate(178,592) rotate(-28)">0</text>
<text class="b" dy=".35em" transform="translate(152,620) rotate(-30)">0</text>
<text class="b" dy=".35em" transform="translate(168,625) rotate(-33)">0</text>
<text class="b" dy=".35em" transform="translate(143,628) rotate(-31)">10</text>
<text class="b" dy=".35em" transform="translate(158,638) rotate(-34)">0</text>
<text class="b" dy=".35em" transform="translate(165,653) rotate(-37)">0</text>
<text class="b" dy=".35em" transform="translate(170,668) rotate(-40)">0</text>
<text class="b" dy=".35em" transform="translate(173,683) rotate(-42)">2</text>
<text class="b" dy=".35em" transform="translate(177,695) rotate(-45)">14</text>
<text class="b" dy=".35em" transform="translate(180,707) rotate(-47)">24</text>
<text class="b" dy=".35em" transform="translate(78,367) rotate(18)">2</text>
<text class="b" dy=".35em" transform="translate(73,378) rotate(16)">10</text>
<text class="b" dy=".35em" transform="translate(98,375) rotate(18)">0</text>
<text class="b" dy=".35em" transform="translate(93,405) rotate(13)">0</text>
<text class="b" dy=".35em" transform="translate(78,422) rotate(9)">9</text>
<text class="b" dy=".35em" transform="translate(97,432) rotate(8)">0</text>
<text class="b" dy=".35em" transform="translate(85,452) rotate(4)">17</text>
<text class="b" dy=".35em" transform="translate(105,465) rotate(2)">0</text>
<text class="b" dy=".35em" transform="translate(92,478) rotate(-1)">9</text>
<text class="b" dy=".35em" transform="translate(95,497) rotate(-4)">32</text>
<text class="b" dy=".35em" transform="translate(112,507) rotate(-6)">0</text>
<text class="b" dy=".35em" transform="translate(105,513) rotate(-7)">1</text>
<text class="b" dy=".35em" transform="translate(102,528) rotate(-10)">6</text>
<text class="b" dy=".35em" transform="translate(100,542) rotate(-13)">11</text>
<text class="b" dy=".35em" transform="translate(130,555) rotate(-16)">0</text>
<text class="b" dy=".35em" transform="translate(162,415) rotate(14)">0</text>
<text class="b" dy=".35em" transform="translate(170,218) rotate(48)">29</text>
<text class="b" dy=".35em" transform="translate(167,228) rotate(47)">4</text>
<text class="b" dy=".35em" transform="translate(162,240) rotate(45)">10</text>
<text class="b" dy=".35em" transform="translate(153,253) rotate(42)">0</text>
<text class="b" dy=".35em" transform="translate(138,272) rotate(38)">0</text>
<text class="b" dy=".35em" transform="translate(120,273) rotate(36)">20</text>
<text class="b" dy=".35em" transform="translate(122,307) rotate(31)">0</text>
<text class="b" dy=".35em" transform="translate(112,305) rotate(30)">14</text>
<text class="b" dy=".35em" transform="translate(107,315) rotate(29)">19</text>
<text class="b" dy=".35em" transform="translate(102,323) rotate(27)">9</text>
<text class="b" dy=".35em" transform="translate(103,347) rotate(23)">0</text>
<text class="b" dy=".35em" transform="translate(93,357) rotate(21)">0</text>
<text class="b" dy=".35em" transform="translate(203,328) rotate(37)">5</text>
<text class="b" dy=".35em" transform="translate(313,248) rotate(69)">42</text>
<text class="b" dy=".35em" transform="translate(287,248) rotate(63)">6</text>
<text class="b" dy=".35em" transform="translate(260,263) rotate(57)">10</text>
</g>
</svg>
